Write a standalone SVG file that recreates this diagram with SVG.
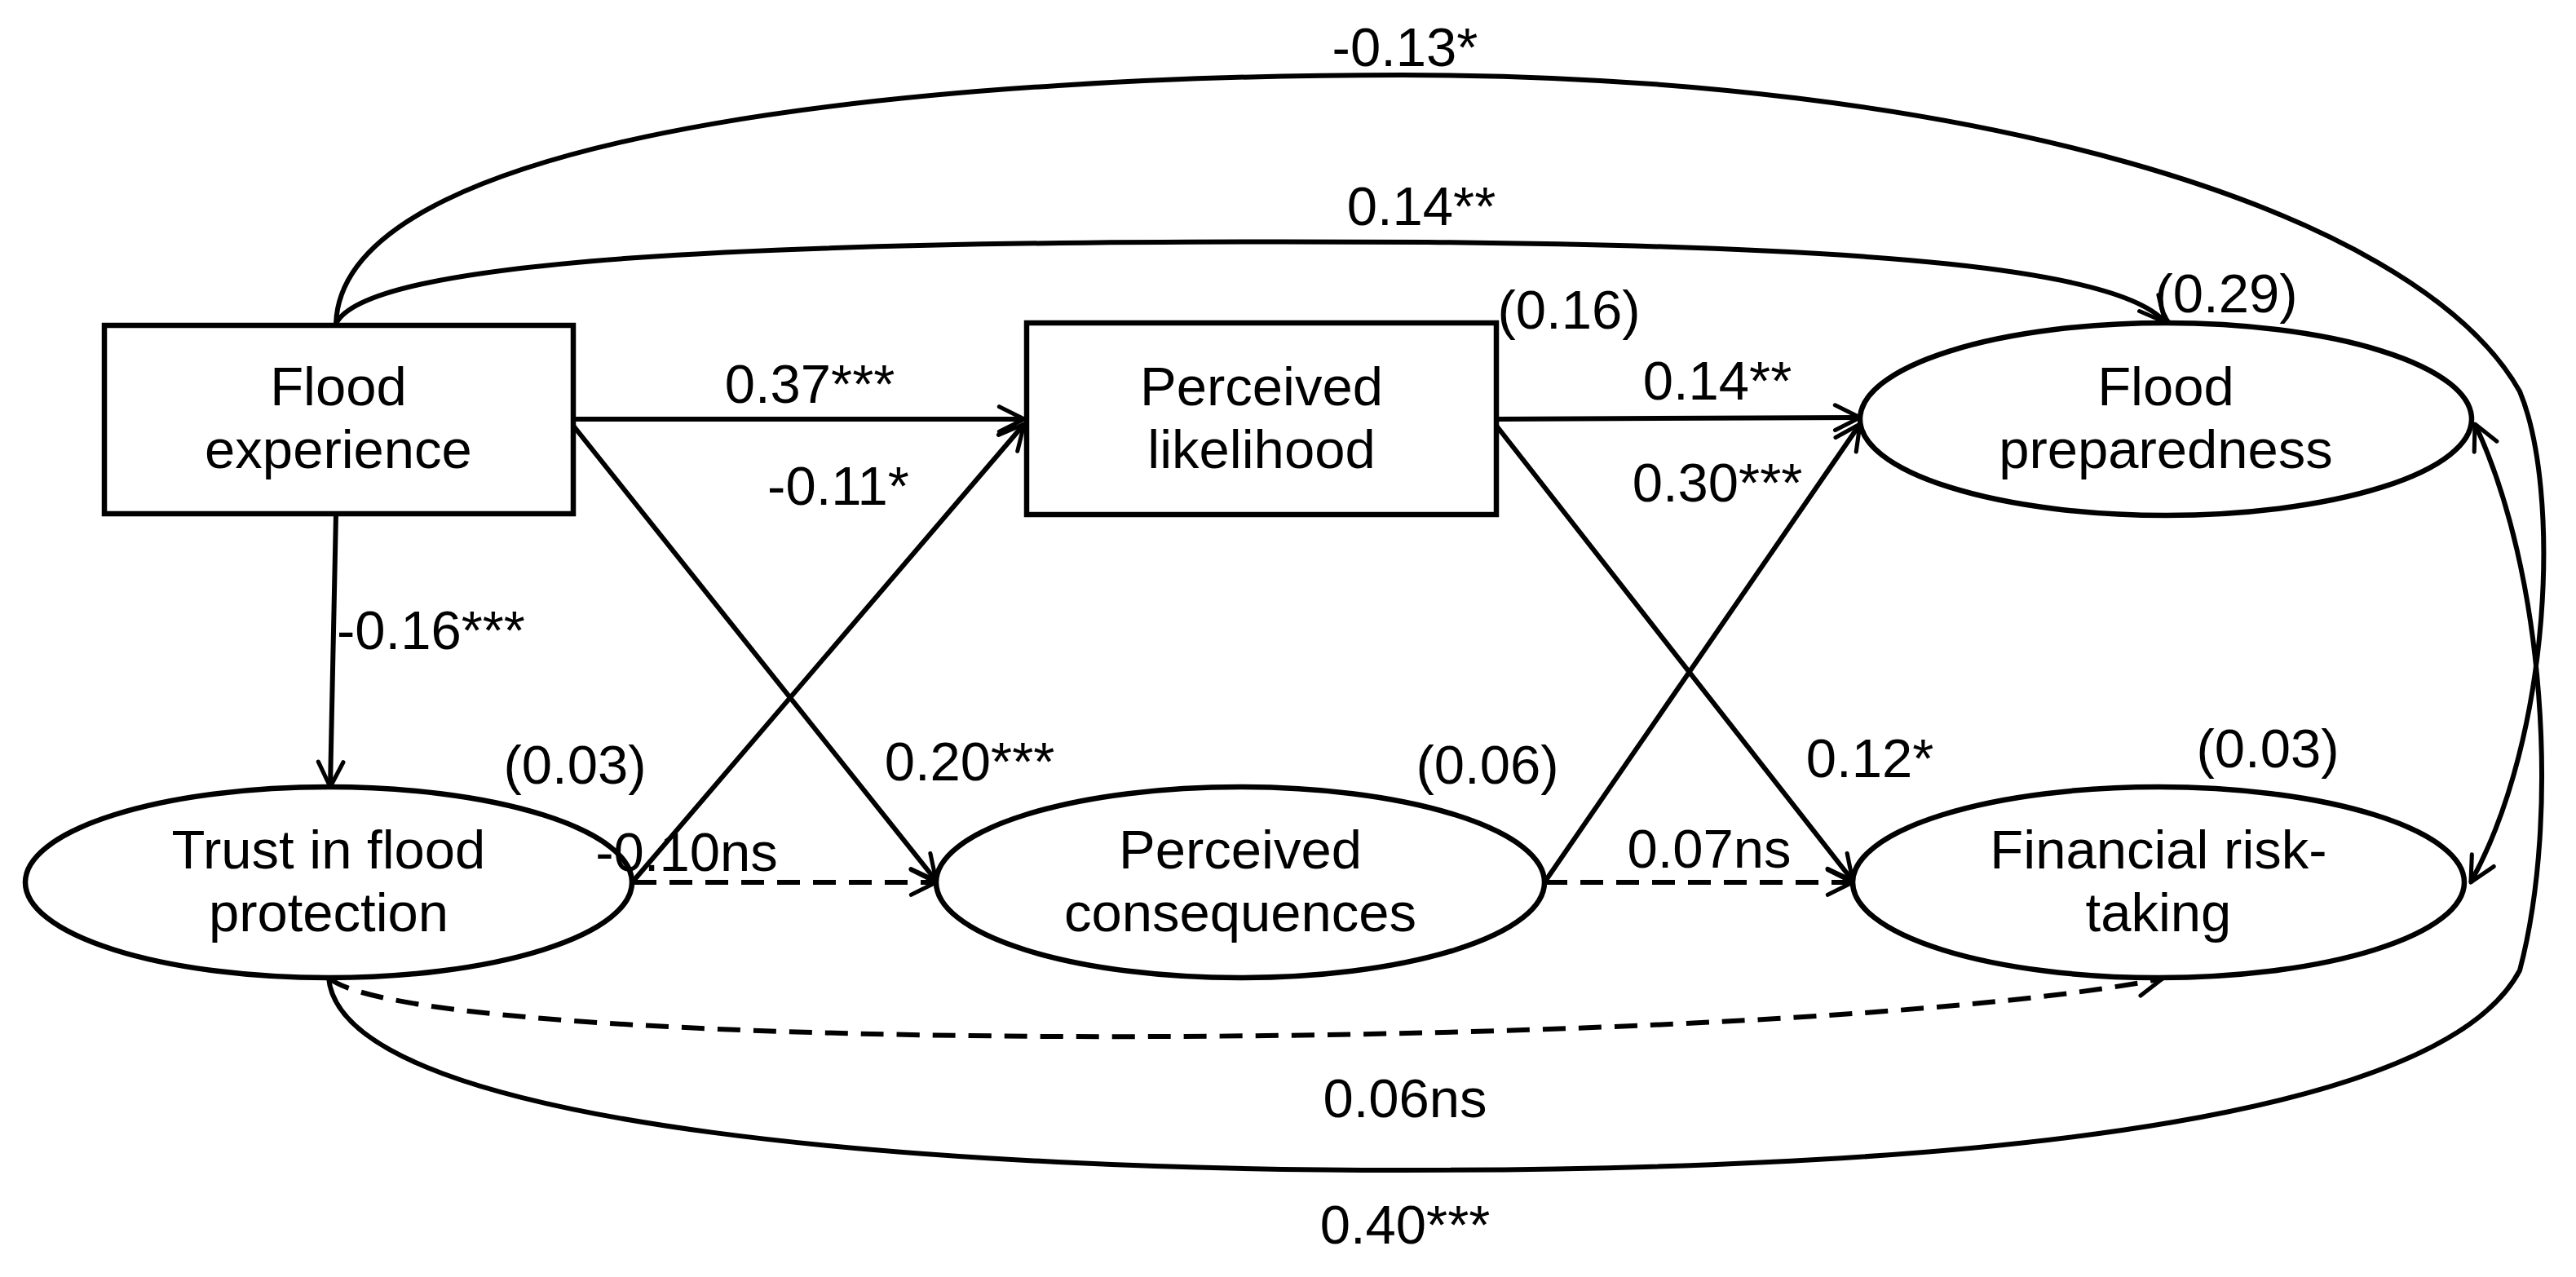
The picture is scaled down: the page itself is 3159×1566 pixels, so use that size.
<svg xmlns="http://www.w3.org/2000/svg" width="3159" height="1566" viewBox="0 0 3159 1566">
<style>
.n{fill:#fff;stroke:#000;stroke-width:6.5}
.c{fill:none;stroke:#000;stroke-width:6}
.d{stroke-dasharray:28 16}
text{font-family:"Liberation Sans",Arial,sans-serif;font-size:67px;fill:#000;text-anchor:middle}
text.s{text-anchor:start}
</style>
<defs>
<marker id="a" viewBox="0 0 20 20" refX="19" refY="10" markerWidth="34" markerHeight="34" markerUnits="userSpaceOnUse" orient="auto" overflow="visible">
<path d="M1,1 L19,10 L1,19" fill="none" stroke="#000" stroke-width="3" stroke-linecap="round" stroke-linejoin="round"/>
</marker>
</defs>
<g id="connectors">
<line class="c" x1="703" y1="514" x2="1256" y2="514" marker-end="url(#a)"/>
<line class="c" x1="703" y1="522" x2="1148" y2="1080" marker-end="url(#a)"/>
<line class="c" x1="777" y1="1080" x2="1256" y2="520" marker-end="url(#a)"/>
<line class="c d" x1="777" y1="1082" x2="1148" y2="1082" marker-end="url(#a)"/>
<line class="c" x1="412" y1="630" x2="405" y2="965" marker-end="url(#a)"/>
<line class="c" x1="1835" y1="514" x2="2281" y2="512" marker-end="url(#a)"/>
<line class="c" x1="1835" y1="522" x2="2272" y2="1080" marker-end="url(#a)"/>
<line class="c" x1="1894" y1="1082" x2="2281" y2="520" marker-end="url(#a)"/>
<line class="c d" x1="1894" y1="1082" x2="2272" y2="1082" marker-end="url(#a)"/>
<path class="c" d="M412,397 C450,320 900,292 1750,297 C2300,302 2600,330 2655,395" marker-end="url(#a)"/>
<path class="c" d="M412,397 C420,150 1200,92 1720,92 C2400,92 2960,250 3090,480 C3140,600 3130,900 3030,1082" marker-end="url(#a)"/>
<path class="c" d="M403,1199 C420,1390 1200,1435 1720,1435 C2500,1435 3000,1360 3090,1190 C3140,1000 3120,700 3035,520" marker-end="url(#a)"/>
<path class="c d" d="M403,1199 C520,1300 2200,1290 2652,1200" marker-end="url(#a)"/>
</g>
<g id="flood-experience"><rect class="n" x="128" y="399" width="575" height="231"/><text x="415" y="497">Flood</text><text x="415" y="574">experience</text></g>
<g id="perceived-likelihood"><rect class="n" x="1259" y="396" width="576" height="235"/><text x="1547" y="497">Perceived</text><text x="1547" y="574">likelihood</text></g>
<g id="flood-preparedness"><ellipse class="n" cx="2656" cy="514" rx="375" ry="118"/><text x="2656" y="497">Flood</text><text x="2656" y="574">preparedness</text></g>
<g id="trust"><ellipse class="n" cx="403" cy="1082" rx="372" ry="117"/><text x="403" y="1065">Trust in flood</text><text x="403" y="1142">protection</text></g>
<g id="perceived-consequences"><ellipse class="n" cx="1521" cy="1082" rx="373" ry="117"/><text x="1521" y="1065">Perceived</text><text x="1521" y="1142">consequences</text></g>
<g id="financial-risk"><ellipse class="n" cx="2647" cy="1082" rx="375" ry="117"/><text x="2647" y="1065">Financial risk-</text><text x="2647" y="1142">taking</text></g>
<g id="labels">
<text x="1723" y="81">-0.13*</text>
<text x="1743" y="276">0.14**</text>
<text x="993" y="494">0.37***</text>
<text x="1924" y="403">(0.16)</text>
<text x="2106" y="490">0.14**</text>
<text x="2730" y="383">(0.29)</text>
<text x="1028" y="619">-0.11*</text>
<text x="2106" y="615">0.30***</text>
<text class="s" x="413" y="796">-0.16***</text>
<text x="705" y="961">(0.03)</text>
<text x="1189" y="957">0.20***</text>
<text x="1824" y="961">(0.06)</text>
<text x="2293" y="953">0.12*</text>
<text x="2781" y="941">(0.03)</text>
<text x="842" y="1068">-0.10ns</text>
<text x="2096" y="1064">0.07ns</text>
<text x="1723" y="1370">0.06ns</text>
<text x="1723" y="1525">0.40***</text>
</g>
</svg>
